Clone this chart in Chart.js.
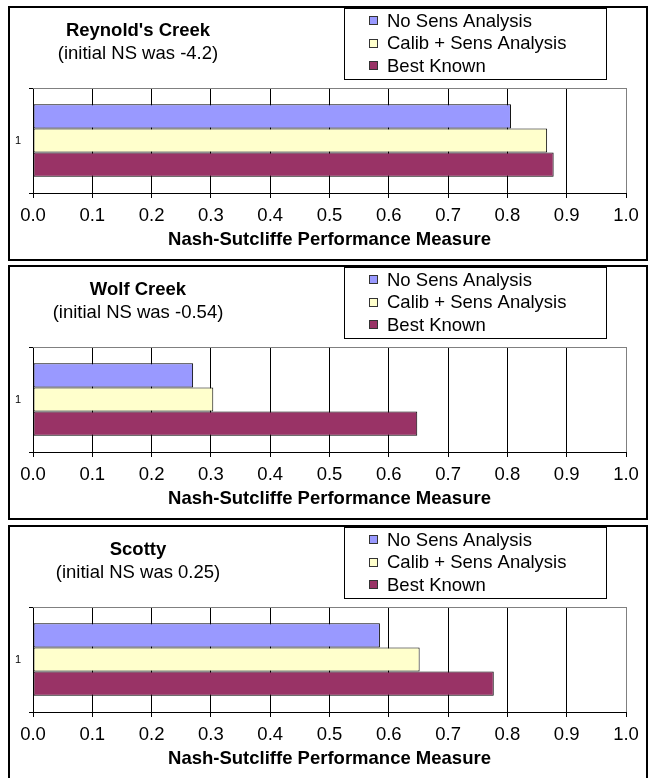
<!DOCTYPE html>
<html>
<head>
<meta charset="UTF-8">
<title>Nash-Sutcliffe Performance Measure</title>
<script src="https://cdn.jsdelivr.net/npm/chart.js"></script>
<style>
  body { margin: 0; background: #fff; width: 652px; height: 778px; overflow: hidden; position: relative; }
  .panel { position: absolute; left: 8px; width: 640px; height: 255px; border: 2px solid #000; box-sizing: border-box; background: #fff; }
  .panel canvas { display: block; }
</style>
</head>
<body>
<div class="panel" style="top:6px"><canvas id="c0" width="636" height="251"></canvas></div>
<div class="panel" style="top:265px"><canvas id="c1" width="636" height="251"></canvas></div>
<div class="panel" style="top:525px"><canvas id="c2" width="636" height="251"></canvas></div>

<script>
  const FONT = "'Liberation Sans', Arial, sans-serif";

  // values
  const sites = ["Reynold's Creek", "Wolf Creek", "Scotty"];
  const initialNS = ["(initial NS was -4.2)", "(initial NS was -0.54)", "(initial NS was 0.25)"];
  const categories = ["1"];
  const seriesNames = ["No Sens Analysis", "Calib + Sens Analysis", "Best Known"];
  const noSens = [0.806, 0.270, 0.585];
  const calibSens = [0.867, 0.304, 0.652];
  const bestKnown = [0.878, 0.648, 0.777];
  const xTicks = [0, 0.1, 0.2, 0.3, 0.4, 0.5, 0.6, 0.7, 0.8, 0.9, 1.0];

  const colors = ["#9999FF", "#FFFFCC", "#993366"];

  // titles, legend box and the grey top edge of the plot
  const decor = {
    id: 'decor',
    beforeDatasetsDraw(chart) {
      const { ctx, chartArea: a } = chart;
      ctx.save();
      ctx.strokeStyle = '#808080';
      ctx.lineWidth = 1;
      ctx.beginPath();
      ctx.moveTo(a.left, Math.round(a.top) + 0.5);
      ctx.lineTo(a.right, Math.round(a.top) + 0.5);
      ctx.stroke();
      ctx.restore();
    },
    afterDraw(chart, args, opts) {
      const ctx = chart.ctx;
      ctx.save();
      ctx.fillStyle = '#000';
      ctx.textAlign = 'center';
      ctx.textBaseline = 'middle';
      ctx.font = 'bold 18.5px ' + FONT;
      ctx.fillText(opts.site, 128, 23);
      ctx.font = '18.5px ' + FONT;
      ctx.fillText(opts.sub, 128, 46);

      // legend
      ctx.strokeStyle = '#000';
      ctx.lineWidth = 1;
      ctx.strokeRect(334.5, 0.5, 262, 71);
      ctx.textAlign = 'left';
      chart.data.datasets.forEach((ds, i) => {
        const y = 12.5 + i * 22.5;
        ctx.fillStyle = ds.backgroundColor;
        ctx.fillRect(359, Math.round(y - 4.5), 9, 9);
        ctx.strokeStyle = '#333';
        ctx.strokeRect(359.5, Math.round(y - 4.5) + 0.5, 8, 8);
        ctx.fillStyle = '#000';
        ctx.fillText(ds.label, 377, y + 1);
      });
      ctx.restore();
    }
  };

  function makeChart(idx) {
    const values = [noSens[idx], calibSens[idx], bestKnown[idx]];
    new Chart(document.getElementById('c' + idx), {
      type: 'bar',
      data: {
        labels: categories,
        datasets: seriesNames.map((name, i) => ({
          label: name,
          data: [values[i]],
          backgroundColor: colors[i],
          borderColor: '#000',
          borderWidth: 1,
          borderSkipped: false,
          barPercentage: 1.0,
          categoryPercentage: 0.69
        }))
      },
      options: {
        indexAxis: 'y',
        responsive: false,
        animation: false,
        layout: { padding: { top: 80, right: 20, left: 0, bottom: 0 } },
        plugins: {
          legend: { display: false },
          tooltip: { enabled: false },
          decor: { site: sites[idx], sub: initialNS[idx] }
        },
        scales: {
          x: {
            type: 'linear',
            min: 0,
            max: 1,
            afterBuildTicks: scale => { scale.ticks = xTicks.map(v => ({ value: v })); },
            afterFit: scale => { scale.height = 66; },
            ticks: {
              color: '#000',
              font: { family: FONT, size: 18.5 },
              padding: 7,
              maxRotation: 0,
              callback: v => Number(v).toFixed(1)
            },
            grid: {
              color: c => (c.tick && Math.abs(c.tick.value - 1) < 1e-9) ? '#808080' : '#000',
              tickColor: '#000',
              tickLength: 5,
              lineWidth: 1
            },
            border: { color: '#000', width: 1 },
            title: {
              display: true,
              text: 'Nash-Sutcliffe Performance Measure',
              color: '#000',
              font: { family: FONT, size: 18.5, weight: 'bold' },
              padding: { top: 0, bottom: 8 }
            }
          },
          y: {
            afterFit: scale => { scale.width = 23; },
            ticks: {
              color: '#000',
              font: { family: FONT, size: 11 },
              padding: 8
            },
            grid: {
              offset: true,
              drawOnChartArea: false,
              tickLength: 4,
              color: '#000'
            },
            border: { color: '#000', width: 1 }
          }
        }
      },
      plugins: [decor]
    });
  }

  [0, 1, 2].forEach(makeChart);
</script>
</body>
</html>
